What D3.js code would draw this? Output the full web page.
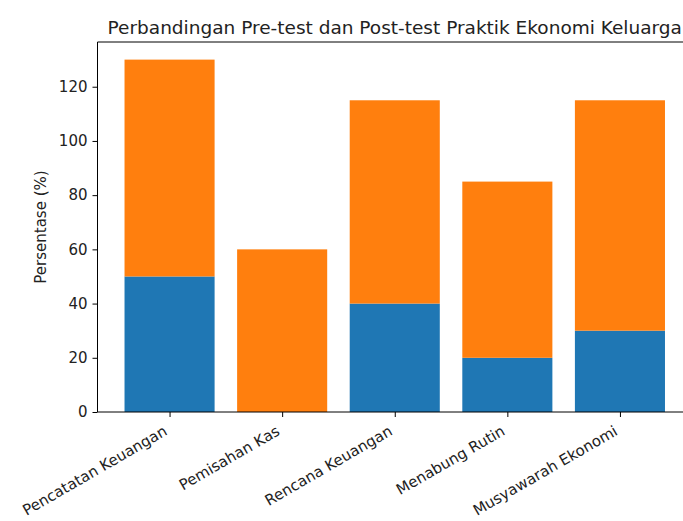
<!DOCTYPE html>
<html><head><meta charset="utf-8">
<script src="https://cdn.jsdelivr.net/npm/d3@7"></script>
<style>body{margin:0;background:#fff}svg{display:block}text{font-family:"DejaVu Sans",sans-serif;fill:#222}</style>
</head><body>
<svg id="c" width="683" height="521"></svg>
<script>
const categories = ["Pencatatan Keuangan","Pemisahan Kas","Rencana Keuangan","Menabung Rutin","Musyawarah Ekonomi"];
const preTest = [50, 0, 40, 20, 30];
const postTest = [80, 60, 75, 65, 85];
const yTicks = [0, 20, 40, 60, 80, 100, 120];
const title = "Perbandingan Pre-test dan Post-test Praktik Ekonomi Keluarga";
const yLabel = "Persentase (%)";

const svg = d3.select("#c");
const L = 97.5, R = 692, T = 42, B = 412;
const x = d3.scaleLinear().domain([-0.64, 4.64]).range([L, R]);
const y = d3.scaleLinear().domain([0, 136.5]).range([B, T]);
const bw = x(0.4) - x(-0.4);
const fs = 15;

const g = svg.append("g");
g.selectAll(".pre").data(preTest).join("rect")
  .attr("x", (d,i) => x(i) - bw/2).attr("width", bw)
  .attr("y", d => y(d)).attr("height", d => y(0) - y(d))
  .attr("fill", "#1f77b4");
g.selectAll(".post").data(postTest).join("rect")
  .attr("x", (d,i) => x(i) - bw/2).attr("width", bw)
  .attr("y", (d,i) => y(preTest[i] + d)).attr("height", (d,i) => y(preTest[i]) - y(preTest[i] + d))
  .attr("fill", "#ff7f0e");

// spines
[[L,T,L,B],[L,B,R,B],[L,T,R,T],[R,T,R,B]].forEach(s =>
  svg.append("line").attr("x1", s[0]).attr("y1", s[1]).attr("x2", s[2]).attr("y2", s[3])
    .attr("stroke", "#000").attr("stroke-width", 1));

// y axis
const ya = svg.append("g").attr("transform", `translate(${L},0)`)
  .call(d3.axisLeft(y).tickValues(yTicks).tickSize(5).tickPadding(5));
ya.select(".domain").remove();
ya.selectAll("text").style("font-size", fs + "px").style("font-family", "DejaVu Sans").attr("fill", "#222");

// x axis
const xa = svg.append("g").attr("transform", `translate(0,${B})`)
  .call(d3.axisBottom(x).tickValues(d3.range(categories.length)).tickSize(5).tickFormat(i => categories[i]));
xa.select(".domain").remove();
xa.selectAll("text").style("font-size", fs + "px").style("font-family", "DejaVu Sans").attr("fill", "#222")
  .attr("text-anchor", "end").attr("dy", null).attr("y", 0)
  .attr("transform", `translate(${-0.5*0.236*fs},${10 + 0.866*0.93*fs}) rotate(-30)`);

svg.append("text").attr("x", (L + R)/2).attr("y", 34).attr("text-anchor", "middle")
  .style("font-size", "18.5px").text(title);
svg.append("text").attr("transform", `translate(46,${(T+B)/2}) rotate(-90)`).attr("text-anchor", "middle")
  .style("font-size", fs + "px").text(yLabel);
</script>
</body></html>
